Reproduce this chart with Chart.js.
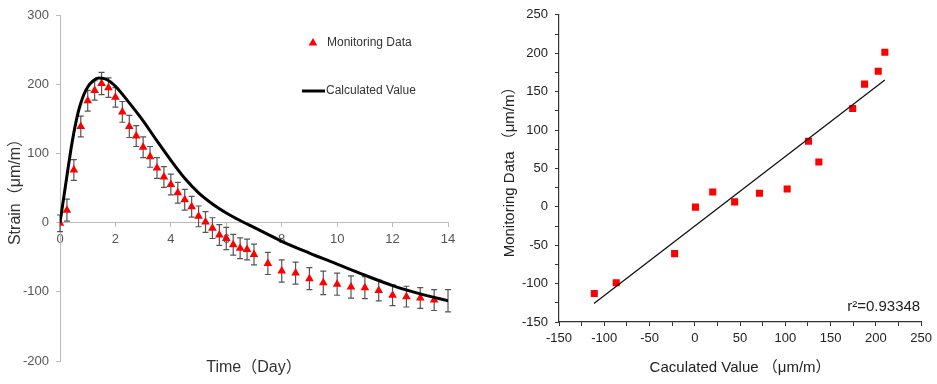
<!DOCTYPE html>
<html><head><meta charset="utf-8">
<script src="https://cdn.jsdelivr.net/npm/chart.js@4"></script>
<style>
html,body{margin:0;padding:0;background:#fff;width:937px;height:384px;overflow:hidden}
#l{position:absolute;left:0;top:0}
#r{position:absolute;left:470px;top:0}
</style></head><body>
<canvas id="l" width="470" height="384"></canvas>
<canvas id="r" width="467" height="384"></canvas>
<script>
// ---- Left chart data ----
const days = [0,0.25,0.5,0.75,1,1.25,1.5,1.75,2,2.25,2.5,2.75,3,3.25,3.5,3.75,4,4.25,4.5,4.75,5,5.25,5.5,5.75,6,6.25,6.5,6.75,7,7.5,8,8.5,9,9.5,10,10.5,11,11.5,12,12.5,13,13.5,14];
const monitoring = [-1,18,76,139,176,191,201,195,181,160,139,125,109,95,79,66,55,43,33,23,9,1,-8,-18,-23,-32,-37,-39,-46,-59,-70,-73,-81,-87,-89,-93,-94,-98,-105,-107,-109,-112,-113];
const monitoringErr = [12,16,15,15,15,14,16,14,14,15,16,15,15,15,15,15,15,15,15,15,15,15,15,15,16,15,15,15,15,16,16,16,16,17,16,16,16,15,15,15,15,15,16];
const calcDays = [0,0.1,0.2,0.3,0.4,0.5,0.6,0.7,0.85,1.0,1.2,1.4,1.6,1.8,2.0,2.5,3.0,3.5,4.0,4.5,5.0,5.5,6.0,6.5,7.0,7.5,8,9,10,11,12,13,14];
const calcValues = [0,27,54,81,107,130,150,166,184,196,205,209,208,204,197,173,147,118,90,64,43,27,14,3,-7,-17,-27,-44,-60,-76,-91,-103,-113];
const leftLabels = {series1: 'Monitoring Data', series2: 'Calculated Value', xTitle: 'Time（Day）', yTitle: 'Strain（μm/m）'};

// ---- Right chart data ----
const calcX = [-111,-86.8,-22.3,0.7,19.8,44,71.4,102,125.6,137,174.4,187.5,202.6,209.9];
const monitorY = [-113,-99,-61,-0.4,19.3,6.4,17.6,23.2,85.4,58.4,127.9,159.7,176.4,201.3];
const fitX = [-111.4, 209.9];
const fitY = [-125.8, 165.2];
const r2Label = 'r²=0.93348';
const rightLabels = {xTitle: 'Caculated Value （μm/m）', yTitle: 'Monitoring Data （μm/m）'};

const NARROW = "'Liberation Sans Narrow','Liberation Sans','Noto Sans CJK SC',sans-serif";
const ARIAL = "'Liberation Sans','Noto Sans CJK SC',sans-serif";

const errorBars = {
  id: 'errorBars',
  beforeDatasetsDraw(chart) {
    const xs = chart.scales.x, ys = chart.scales.y, ctx = chart.ctx;
    ctx.save(); ctx.strokeStyle = '#555'; ctx.lineWidth = 1.2;
    days.forEach((d, i) => {
      const x = xs.getPixelForValue(d);
      const y1 = ys.getPixelForValue(monitoring[i] + monitoringErr[i]);
      const y2 = ys.getPixelForValue(monitoring[i] - monitoringErr[i]);
      ctx.beginPath();
      ctx.moveTo(x, y1); ctx.lineTo(x, y2);
      ctx.moveTo(x - 3, y1); ctx.lineTo(x + 3, y1);
      ctx.moveTo(x - 3, y2); ctx.lineTo(x + 3, y2);
      ctx.stroke();
    });
    ctx.restore();
  }
};

const customLegend = {
  id: 'customLegend',
  afterDraw(chart) {
    const ctx = chart.ctx;
    ctx.save();
    const tx = 313, ty = 43, r = 5;
    ctx.fillStyle = '#ff0000';
    ctx.beginPath();
    ctx.moveTo(tx, ty - r);
    ctx.lineTo(tx + r * 0.866, ty + r * 0.5);
    ctx.lineTo(tx - r * 0.866, ty + r * 0.5);
    ctx.closePath(); ctx.fill();
    ctx.strokeStyle = '#000'; ctx.lineWidth = 3;
    ctx.beginPath(); ctx.moveTo(302, 91); ctx.lineTo(325, 91); ctx.stroke();
    ctx.fillStyle = '#333';
    ctx.font = "12px " + NARROW;
    ctx.textBaseline = 'middle';
    ctx.fillText(leftLabels.series1, 327, 43);
    ctx.fillText(leftLabels.series2, 326, 91);
    ctx.restore();
  }
};

new Chart(document.getElementById('l'), {
  type: 'scatter',
  data: {
    datasets: [
      {
        label: leftLabels.series2,
        data: calcDays.map((d, i) => ({x: d, y: calcValues[i]})),
        showLine: true, borderColor: '#000', borderWidth: 3,
        pointRadius: 0, cubicInterpolationMode: 'monotone', fill: false
      },
      {
        label: leftLabels.series1,
        data: days.map((d, i) => ({x: d, y: monitoring[i]})),
        pointStyle: 'triangle', backgroundColor: '#ff0000', borderColor: '#ff0000',
        pointRadius: days.map((d, i) => i === days.length - 1 ? 0 : 5), borderWidth: 0
      }
    ]
  },
  options: {
    responsive: false, animation: false, devicePixelRatio: 1,
    layout: {padding: {top: 15, right: 22, left: 0, bottom: 0}},
    plugins: {legend: {display: false}, tooltip: {enabled: false}},
    scales: {
      x: {
        type: 'linear', position: {y: 0}, min: 0, max: 14,
        ticks: {stepSize: 2, color: '#555', font: {family: NARROW, size: 13}, padding: 5},
        grid: {drawOnChartArea: false, drawTicks: true, tickLength: 4, color: '#bbb'},
        border: {color: '#bbb', width: 1}
      },
      xt: {
        type: 'linear', position: 'bottom', min: 0, max: 14,
        ticks: {display: false}, grid: {display: false}, border: {display: false},
        title: {display: true, text: leftLabels.xTitle, color: '#333', font: {family: NARROW, size: 16}, padding: {top: 0, bottom: 7}},
        afterFit(s) { s.height = 23; }
      },
      y: {
        type: 'linear', position: 'left', min: -200, max: 300,
        ticks: {stepSize: 100, color: '#555', font: {family: NARROW, size: 13}, padding: 7},
        grid: {drawOnChartArea: false, drawTicks: true, tickLength: 4, color: '#bbb'},
        border: {color: '#bbb', width: 1},
        title: {display: true, text: leftLabels.yTitle, color: '#333', font: {family: NARROW, size: 16}, padding: {top: 6, bottom: 0}},
        afterFit(s) { s.width = 60; }
      }
    }
  },
  plugins: [errorBars, customLegend]
});

const r2Plugin = {
  id: 'r2',
  afterDraw(chart) {
    const ctx = chart.ctx, a = chart.chartArea;
    ctx.save();
    ctx.fillStyle = '#222';
    ctx.font = "15px " + ARIAL;
    ctx.textAlign = 'right'; ctx.textBaseline = 'middle';
    ctx.fillText(r2Label, a.right - 1, a.bottom - 15);
    ctx.restore();
  }
};

new Chart(document.getElementById('r'), {
  type: 'scatter',
  data: {
    datasets: [
      {
        label: 'fit',
        data: fitX.map((v, i) => ({x: v, y: fitY[i]})),
        showLine: true, borderColor: '#111', borderWidth: 1.3, pointRadius: 0
      },
      {
        label: 'points',
        data: calcX.map((v, i) => ({x: v, y: monitorY[i]})),
        pointStyle: 'rect', pointRadius: 5, backgroundColor: '#ff0000', borderWidth: 0
      }
    ]
  },
  options: {
    responsive: false, animation: false, devicePixelRatio: 1,
    layout: {padding: {top: 11, right: 14, left: 0, bottom: 0}},
    plugins: {legend: {display: false}, tooltip: {enabled: false}},
    scales: {
      x: {
        type: 'linear', position: 'bottom', min: -150, max: 250,
        ticks: {stepSize: 25, autoSkip: false, maxRotation: 0, color: '#222', font: {family: ARIAL, size: 13}, padding: 5,
          callback: v => (v % 50 === 0 ? v : '')},
        grid: {drawOnChartArea: false, drawTicks: true, tickLength: 4, color: '#333'},
        border: {color: '#333', width: 1.2},
        title: {display: true, text: rightLabels.xTitle, color: '#222', font: {family: ARIAL, size: 15}, padding: {top: 0, bottom: 7}},
        afterFit(s) { s.height = 62; }
      },
      y: {
        type: 'linear', position: 'left', min: -150, max: 250,
        ticks: {stepSize: 25, autoSkip: false, color: '#222', font: {family: ARIAL, size: 13}, padding: 7,
          callback: v => (v % 50 === 0 ? v : '')},
        grid: {drawOnChartArea: false, drawTicks: true, tickLength: 4, color: '#333'},
        border: {color: '#333', width: 1.2},
        title: {display: true, text: rightLabels.yTitle, color: '#222', font: {family: ARIAL, size: 15}, padding: {top: 31, bottom: 0}},
        afterFit(s) { s.width = 89; }
      }
    }
  },
  plugins: [r2Plugin]
});
</script>
</body></html>
